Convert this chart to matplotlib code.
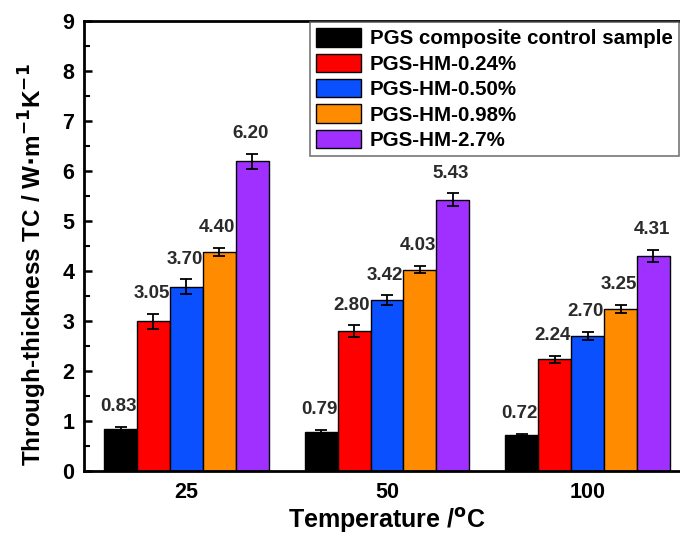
import matplotlib
matplotlib.use("Agg")
import matplotlib.pyplot as plt
import numpy as np
from matplotlib.ticker import MultipleLocator

plt.rcParams['font.family'] = ['Liberation Sans', 'DejaVu Sans']
plt.rcParams['font.weight'] = 'bold'
plt.rcParams['mathtext.default'] = 'bf'

temperatures = ["25", "50", "100"]
series = ["PGS composite control sample", "PGS-HM-0.24%", "PGS-HM-0.50%", "PGS-HM-0.98%", "PGS-HM-2.7%"]
colors = ["#000000", "#FF0000", "#0A50FF", "#FF8C00", "#A030FF"]

control = [0.84, 0.79, 0.72]
hm024 = [3.00, 2.80, 2.24]
hm050 = [3.69, 3.42, 2.70]
hm098 = [4.39, 4.03, 3.25]
hm27 = [6.20, 5.43, 4.31]

err_control = [0.05, 0.03, 0.03]
err_hm024 = [0.15, 0.12, 0.07]
err_hm050 = [0.15, 0.10, 0.08]
err_hm098 = [0.08, 0.07, 0.08]
err_hm27 = [0.15, 0.13, 0.12]

lab_control = ["0.83", "0.79", "0.72"]
lab_hm024 = ["3.05", "2.80", "2.24"]
lab_hm050 = ["3.70", "3.42", "2.70"]
lab_hm098 = ["4.40", "4.03", "3.25"]
lab_hm27 = ["6.20", "5.43", "4.31"]

values = [control, hm024, hm050, hm098, hm27]
errors = [err_control, err_hm024, err_hm050, err_hm098, err_hm27]
labels = [lab_control, lab_hm024, lab_hm050, lab_hm098, lab_hm27]

W, H = 680, 536
fig = plt.figure(figsize=(W / 100, H / 100), dpi=100)
x0, x1 = 84, 690
y_top, y_bot = 21, 471
ax = fig.add_axes([x0 / W, (H - y_bot) / H, (x1 - x0) / W, (y_bot - y_top) / H])

x = np.arange(len(temperatures))
bw = 0.164
for i, (v, e, lab, c, name) in enumerate(zip(values, errors, labels, colors, series)):
    pos = x + (i - 2) * bw
    ax.bar(pos, v, bw, color=c, edgecolor="black", linewidth=1.0, label=name, zorder=2)
    ax.errorbar(pos, v, yerr=e, fmt="none", ecolor="black", elinewidth=1.3,
                capsize=4, capthick=1.3, zorder=3)
    for p, val, err, t in zip(pos, v, e, lab):
        ax.text(p - 0.01, val + err + 0.4, t, ha="center", va="center",
                fontsize=13.5, fontweight="bold", color="#2a2a2a")

ax.set_xlim(-0.51, 2.51)
ax.set_ylim(0, 9)
ax.set_xticks(x)
ax.set_xticklabels(temperatures)
ax.yaxis.set_major_locator(MultipleLocator(1))
ax.yaxis.set_minor_locator(MultipleLocator(0.5))
ax.tick_params(axis="y", which="major", direction="in", length=6, width=1.8, labelsize=15.5, pad=7)
ax.tick_params(axis="y", which="minor", direction="in", length=4, width=1.5)
ax.tick_params(axis="x", which="major", length=0, labelsize=15.5, pad=8)
for lbl in ax.get_xticklabels() + ax.get_yticklabels():
    lbl.set_fontweight("bold")
for s in ax.spines.values():
    s.set_linewidth(2)

ax.set_xlabel("Temperature /$\\mathbf{^{o}}$C", fontsize=18, fontweight="bold", labelpad=2)
ax.set_ylabel("Through-thickness TC / W$\\mathbf{\\cdot}$m$\\mathbf{^{-1}}$K$\\mathbf{^{-1}}$",
              fontsize=17.5, fontweight="bold")
ax.yaxis.set_label_coords(-0.057, 0.458)

leg = ax.legend(loc="upper left", bbox_to_anchor=(310 / W, 1 - 22 / H),
                bbox_transform=fig.transFigure, borderaxespad=0,
                fontsize=14.8, frameon=True, fancybox=False, edgecolor="#555555",
                handlelength=2.2, handleheight=1.0, labelspacing=0.25,
                handletextpad=0.4, borderpad=0.3)
leg.get_frame().set_linewidth(1.2)
for t in leg.get_texts():
    t.set_fontweight("bold")

fig.savefig("out.png", dpi=100)
